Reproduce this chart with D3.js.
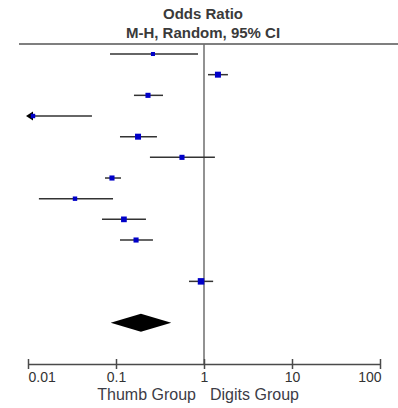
<!DOCTYPE html>
<html>
<head>
<meta charset="utf-8">
<script src="https://cdn.jsdelivr.net/npm/d3@7"></script>
<style>
  body { margin: 0; background: #fff; }
  svg text { font-family: "Liberation Sans", Arial, sans-serif; }
</style>
</head>
<body>
<div id="display"></div>
<script>
// study rows, top to bottom (odds ratio with 95% CI)
const studyOR = [0.263, 1.44, 0.231, 0.0114, 0.178, 0.562, 0.090, 0.0342, 0.123, 0.169, null, 0.925];
const studyLow = [0.0855, 1.11, 0.16, 0.004, 0.111, 0.243, 0.075, 0.0133, 0.0693, 0.111, null, 0.675];
const studyHigh = [0.855, 1.87, 0.342, 0.0533, 0.292, 1.33, 0.114, 0.0925, 0.219, 0.263, null, 1.27];
const studyWeight = [5, 11, 8, 6, 11, 8, 8, 6, 10, 8, null, 13];
// pooled estimate
const pooled = {or: 0.192, low: 0.087, high: 0.425};
const tickValues = [0.01, 0.1, 1, 10, 100];
const tickLabels = ['0.01', '0.1', '1', '10', '100'];
const titleLines = ['Odds Ratio', 'M-H, Random, 95% CI'];
const favours = ['Thumb Group', 'Digits Group'];

const width = 398;
const height = 408;

const svg = d3.select('#display').append('svg')
    .attr('width', width)
    .attr('height', height);

const x = d3.scaleLog().domain([0.01, 100]).range([28, 380]);
const y = d3.scaleLinear().domain([0, 13]).range([54, 322.7]);
const box = d3.scaleSqrt().domain([0, 13]).range([0, 6.5]);
const axisY = 364;
const topY = 44;

// header
svg.selectAll('.title')
    .data(titleLines).enter()
    .append('text')
    .attr('x', x(1) - 1)
    .attr('y', (d, i) => 19 + i * 18.5)
    .attr('text-anchor', 'middle')
    .style('font-size', '15px')
    .style('font-weight', 'bold')
    .style('fill', '#3a3a3a')
    .text((d) => d);

svg.append('line')
    .attr('x1', 19).attr('x2', width)
    .attr('y1', topY).attr('y2', topY)
    .style('stroke', '#555').style('stroke-width', 1.5);

// line of no effect
svg.append('line')
    .attr('x1', x(1)).attr('x2', x(1))
    .attr('y1', topY).attr('y2', axisY)
    .style('stroke', '#6e6e6e').style('stroke-width', 1.5);

// axis
const axis = svg.append('g')
    .attr('transform', 'translate(0,' + axisY + ')')
    .call(d3.axisBottom(x).tickValues(tickValues)
        .tickFormat((d, i) => tickLabels[i]).tickSizeOuter(0));
axis.select('.domain').style('stroke', '#4a4a4a').style('stroke-width', 1.5);
axis.selectAll('.tick line')
    .attr('y1', -5).attr('y2', 5)
    .style('stroke', '#4a4a4a').style('stroke-width', 1.5);
axis.selectAll('.tick text')
    .attr('y', 18).attr('dy', 0)
    .style('font-size', '14px')
    .style('fill', '#333')
    .attr('text-anchor', (d, i) => i == 0 ? 'start' : (i == tickValues.length - 1 ? 'end' : 'middle'))
    .attr('dx', (d, i) => i == tickValues.length - 1 ? 1 : 0);

svg.selectAll('.fav')
    .data(favours).enter()
    .append('text')
    .attr('x', (d, i) => i == 0 ? x(1) - 8 : x(1) + 6)
    .attr('y', 400)
    .attr('text-anchor', (d, i) => i == 0 ? 'end' : 'start')
    .style('font-size', '16px')
    .style('fill', '#3c3c46')
    .text((d) => d);

// studies
const rows = studyOR.map((d, i) => ({
  or: d, low: studyLow[i], high: studyHigh[i], w: studyWeight[i], i: i,
})).filter((d) => d.or != null);

const g = svg.append('g');
const xMin = x.domain()[0];

g.selectAll('.ci')
    .data(rows).enter()
    .append('line')
    .attr('x1', (d) => x(Math.max(d.low, xMin)) + (d.low < xMin ? 4 : 0))
    .attr('x2', (d) => x(d.high))
    .attr('y1', (d) => y(d.i))
    .attr('y2', (d) => y(d.i))
    .style('stroke', '#333')
    .style('stroke-width', 1.5);

// arrow heads for clipped intervals
g.selectAll('.arrow')
    .data(rows.filter((d) => d.low < xMin)).enter()
    .append('path')
    .attr('d', (d) => {
      const x0 = x(xMin) - 2;
      const yy = y(d.i);
      return 'M' + x0 + ',' + yy + 'L' + (x0 + 7) + ',' + (yy - 4.5) +
        'L' + (x0 + 7) + ',' + (yy + 4.5) + 'Z';
    })
    .style('fill', '#000');

g.selectAll('.box')
    .data(rows).enter()
    .append('rect')
    .attr('x', (d) => x(d.or) - box(d.w) / 2)
    .attr('y', (d) => y(d.i) - box(d.w) / 2)
    .attr('width', (d) => box(d.w))
    .attr('height', (d) => box(d.w))
    .style('fill', '#0000c8');

// pooled diamond
const py = y(13);
svg.append('path')
    .attr('d', 'M' + x(pooled.low) + ',' + py +
      'L' + x(pooled.or) + ',' + (py - 9) +
      'L' + x(pooled.high) + ',' + py +
      'L' + x(pooled.or) + ',' + (py + 9) + 'Z')
    .style('fill', '#000');
</script>
</body>
</html>
